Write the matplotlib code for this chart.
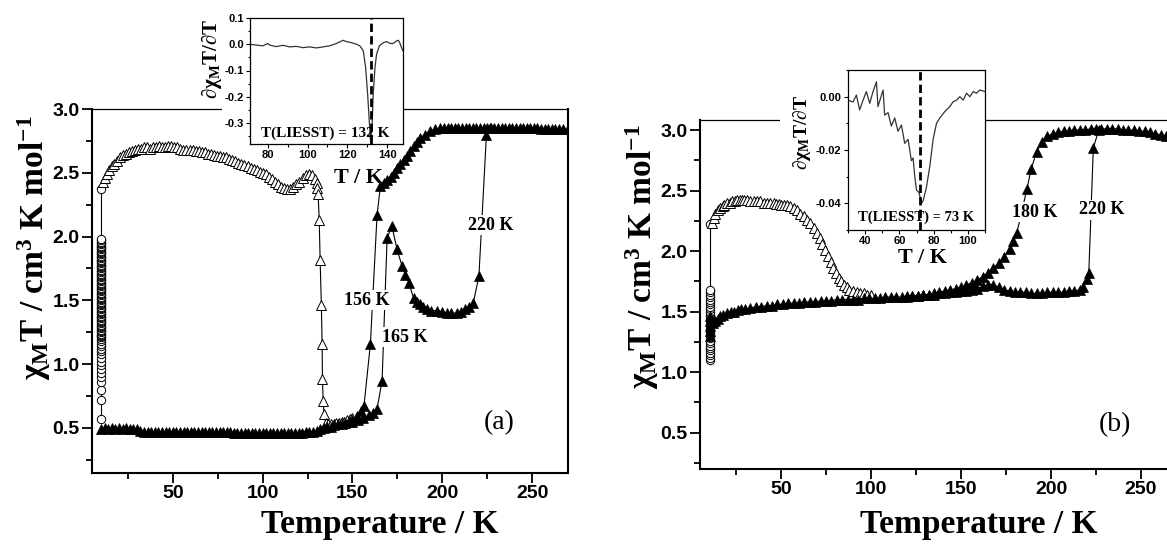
import numpy as np
import matplotlib
matplotlib.use('Agg')
import matplotlib.pyplot as plt
from matplotlib.patches import Rectangle
from matplotlib.ticker import MultipleLocator, FormatStrFormatter

plt.rcParams['font.family'] = ['Liberation Sans', 'DejaVu Sans']
plt.rcParams['font.weight'] = 'bold'
plt.rcParams['mathtext.default'] = 'regular'
plt.rcParams['axes.unicode_minus'] = False
SERIF = ['Liberation Serif', 'DejaVu Serif']

# ---------------- panel (a) data: (T / K, chiT) ----------------
a_circ_T = 10.0
a_circ_v = [0.57, 0.72, 0.80, 0.86, 0.90, 0.93, 0.96, 0.99, 1.02, 1.05, 1.08, 1.10,
            1.12, 1.14, 1.16, 1.18, 1.20, 1.21, 1.22, 1.23, 1.24, 1.25, 1.26, 1.27,
            1.28, 1.29, 1.30, 1.31, 1.32, 1.33, 1.34, 1.35, 1.36, 1.37, 1.38, 1.39,
            1.40, 1.41, 1.42, 1.43, 1.44, 1.45, 1.46, 1.47, 1.48, 1.49, 1.50, 1.51,
            1.52, 1.53, 1.54, 1.55, 1.56, 1.57, 1.58, 1.59, 1.60, 1.61, 1.62, 1.63,
            1.64, 1.65, 1.66, 1.67, 1.68, 1.69, 1.70, 1.71, 1.72, 1.73, 1.74, 1.75,
            1.76, 1.77, 1.78, 1.79, 1.80, 1.81, 1.82, 1.83, 1.84, 1.85, 1.86, 1.87,
            1.88, 1.89, 1.90, 1.91, 1.92, 1.93, 1.94, 1.95, 1.96, 1.97, 1.98, 2.37]

a_open = [(11.3, 2.43), (12.2, 2.46), (13.1, 2.49), (14.5, 2.52), (15.9, 2.55),
          (17.3, 2.57), (18.7, 2.59), (20.5, 2.62), (22.4, 2.64), (24.0, 2.65),
          (25.6, 2.66), (27.2, 2.67), (28.9, 2.68), (30.5, 2.69), (32.2, 2.69),
          (33.9, 2.70), (35.5, 2.70), (37.2, 2.69), (38.9, 2.70), (40.6, 2.70),
          (42.3, 2.71), (44.0, 2.70), (45.7, 2.70), (47.4, 2.71), (49.1, 2.71),
          (50.8, 2.70), (52.5, 2.70), (54.2, 2.69), (55.9, 2.68), (57.6, 2.68),
          (59.3, 2.68), (61.0, 2.68), (62.7, 2.67), (64.4, 2.67), (66.1, 2.66),
          (67.8, 2.66), (69.5, 2.65), (71.2, 2.65), (72.9, 2.64), (74.6, 2.63),
          (76.3, 2.63), (78.0, 2.62), (79.7, 2.62), (81.4, 2.61), (83.1, 2.60),
          (84.8, 2.59), (86.5, 2.58), (88.2, 2.57), (89.9, 2.56), (91.6, 2.55),
          (93.3, 2.54), (95.0, 2.53), (96.7, 2.52), (98.4, 2.51), (100.1, 2.50),
          (101.8, 2.49), (103.5, 2.47), (105.2, 2.45), (106.9, 2.43), (108.6, 2.41),
          (110.3, 2.39), (112.0, 2.38), (113.7, 2.37), (115.4, 2.37), (117.1, 2.39),
          (118.8, 2.41), (120.5, 2.43), (122.2, 2.46), (123.9, 2.48), (125.6, 2.49),
          (127.3, 2.48), (129.0, 2.45), (130.0, 2.42), (130.5, 2.38), (130.9, 2.33),
          (131.5, 2.13), (132.0, 1.82), (132.7, 1.46), (133.1, 1.16), (133.3, 0.88),
          (133.7, 0.71), (134.2, 0.61), (135.1, 0.54), (136.5, 0.53), (138.0, 0.53),
          (139.5, 0.53), (141.0, 0.54), (142.5, 0.54), (144.0, 0.55), (145.5, 0.55),
          (147.0, 0.56), (148.5, 0.57), (150.0, 0.58)]

# filled triangles: baseline then the 156 K branch
a_fill1 = [(10, 0.49), (12, 0.50), (14, 0.49), (16, 0.50), (18, 0.49), (20, 0.50),
           (22, 0.49), (24, 0.50), (26, 0.49), (28, 0.49), (30, 0.49), (32, 0.48),
           (34, 0.47), (36, 0.47), (38, 0.47), (40, 0.47), (42, 0.47), (44, 0.47),
           (46, 0.47), (48, 0.47), (50, 0.47), (52, 0.47), (54, 0.47), (56, 0.47),
           (58, 0.47), (60, 0.47), (62, 0.47), (64, 0.47), (66, 0.47), (68, 0.47),
           (70, 0.47), (72, 0.47), (74, 0.47), (76, 0.47), (78, 0.47), (80, 0.47),
           (82, 0.47), (84, 0.46), (86, 0.46), (88, 0.46), (90, 0.46), (92, 0.46),
           (94, 0.46), (96, 0.46), (98, 0.46), (100, 0.46), (102, 0.46), (104, 0.46),
           (106, 0.46), (108, 0.46), (110, 0.46), (112, 0.46), (114, 0.46), (116, 0.46),
           (118, 0.46), (120, 0.46), (122, 0.46), (124, 0.47), (126, 0.47), (128, 0.47),
           (130, 0.48), (132, 0.49), (134, 0.50), (136, 0.51), (138, 0.51), (140, 0.52),
           (142, 0.53), (144, 0.53), (146, 0.54), (148, 0.55), (150, 0.56), (152.5, 0.59),
           (154.5, 0.63), (156.4, 0.67), (160.0, 1.16), (163.7, 2.17), (165.6, 2.40),
           (167.5, 2.42), (169.3, 2.44), (171.2, 2.47), (173.0, 2.50), (174.9, 2.54),
           (176.7, 2.57), (178.5, 2.60), (180.4, 2.63), (182.2, 2.67), (184.0, 2.71),
           (185.9, 2.74), (187.7, 2.77), (190.3, 2.80), (193.0, 2.83), (195.9, 2.84),
           (198.8, 2.85), (201, 2.85), (203, 2.85), (205, 2.85), (207, 2.85), (209, 2.85),
           (211, 2.85), (213, 2.85), (215, 2.85), (217, 2.85), (219, 2.85), (221, 2.85),
           (223, 2.85), (225, 2.85), (227, 2.85), (229, 2.85), (231, 2.85), (233, 2.85),
           (235, 2.85), (237, 2.85), (239, 2.85), (241, 2.85), (243, 2.85), (245, 2.85),
           (247, 2.85), (249, 2.85), (251, 2.85), (253, 2.85), (255, 2.84), (257, 2.84),
           (259, 2.84), (261, 2.84), (263, 2.84), (265, 2.84), (267, 2.84), (270, 2.84)]

# filled triangles: the 165 K branch with the 220 K step
a_fill2 = [(150, 0.55), (153, 0.56), (156, 0.58), (159.1, 0.60), (161.5, 0.62),
           (163.7, 0.65), (166.5, 0.87), (169.3, 1.99), (172.0, 2.08), (174.8, 1.90),
           (177.6, 1.77), (179.5, 1.70), (181.3, 1.64), (184.0, 1.52), (186.0, 1.49),
           (187.7, 1.47), (189.5, 1.45), (191.4, 1.43), (194.0, 1.42), (197.0, 1.42),
           (200.0, 1.41), (202.5, 1.40), (205.0, 1.40), (208.0, 1.40), (210.5, 1.41),
           (212.6, 1.43), (215.0, 1.45), (217.3, 1.48), (220.4, 1.69), (224.6, 2.80),
           (226.5, 2.85)]

a_inset = [(70.7, 0.000), (74.1, -0.003), (77.5, -0.006), (80.0, 0.003), (80.8, -0.003),
           (84.2, -0.009), (87.6, -0.004), (90.9, -0.010), (94.3, -0.008), (97.7, -0.013),
           (101.0, -0.010), (104.4, -0.014), (107.8, -0.010), (111.1, -0.006),
           (114.5, 0.003), (117.9, 0.015), (119.6, 0.010), (122.1, 0.006), (124.6, 0.000),
           (126.3, -0.006), (128.0, -0.025), (129.2, -0.089), (130.2, -0.190),
           (131.0, -0.290), (131.7, -0.370), (132.4, -0.320), (133.0, -0.190),
           (133.9, -0.089), (134.7, -0.038), (136.1, -0.006), (138.1, 0.006),
           (139.8, 0.010), (141.4, 0.003), (143.1, 0.003), (144.8, 0.013), (145.7, 0.015),
           (146.5, 0.003), (147.8, -0.023)]
a_liesst = 132

# ---------------- panel (b) data ----------------
b_circ_T = 10.6
b_circ_v = [1.10, 1.12, 1.14, 1.16, 1.18, 1.20, 1.22, 1.24, 1.26, 1.28, 1.30, 1.32,
            1.34, 1.36, 1.38, 1.40, 1.42, 1.44, 1.46, 1.48, 1.50, 1.52, 1.54, 1.56,
            1.58, 1.60, 1.62, 1.64, 1.66, 1.68, 2.22]

b_open = [(11.7, 2.23), (12.6, 2.27), (13.6, 2.31), (15.0, 2.34), (16.3, 2.36),
          (17.5, 2.37), (18.5, 2.38), (20.0, 2.40), (21.5, 2.40), (22.8, 2.41),
          (24.2, 2.41), (25.6, 2.42), (27.0, 2.42), (28.3, 2.42), (29.7, 2.42),
          (31.1, 2.42), (32.9, 2.41), (34.8, 2.41), (36.6, 2.41), (38.5, 2.41),
          (40.3, 2.40), (42.2, 2.40), (44.0, 2.40), (45.9, 2.40), (47.3, 2.39),
          (48.7, 2.39), (50.1, 2.38), (51.5, 2.38), (53.4, 2.38), (55.2, 2.37),
          (57.0, 2.36), (58.9, 2.34), (60.7, 2.31), (62.6, 2.29), (64.5, 2.26),
          (66.3, 2.23), (68.2, 2.19), (70.0, 2.15), (71.5, 2.11), (73.0, 2.06),
          (74.5, 2.01), (76.0, 1.96), (77.5, 1.91), (79.0, 1.86), (80.5, 1.82),
          (82.0, 1.78), (83.5, 1.75), (85.0, 1.72), (86.5, 1.70), (88.0, 1.68),
          (90.0, 1.67), (92.0, 1.66), (94.0, 1.65), (96.0, 1.65), (98.0, 1.64),
          (100.0, 1.64)]

# filled triangles: lower branch with the 220 K step
b_low = [(10.6, 1.30), (10.6, 1.34), (10.6, 1.38), (10.6, 1.42), (10.6, 1.46),
         (12.0, 1.41), (13.6, 1.42), (15.0, 1.44), (16.3, 1.46), (18.0, 1.47),
         (20.0, 1.49), (22.0, 1.50), (24.0, 1.50), (26.0, 1.51), (28.0, 1.52),
         (30.0, 1.52), (33, 1.53), (36, 1.54), (39, 1.54), (42, 1.55), (45, 1.55),
         (48, 1.56), (51, 1.56), (54, 1.57), (57, 1.57), (60, 1.57), (63, 1.58),
         (66, 1.58), (69, 1.58), (72, 1.59), (75, 1.59), (78, 1.59), (81, 1.60),
         (84, 1.60), (87, 1.60), (90, 1.60), (93, 1.60), (96, 1.61), (99, 1.61),
         (102, 1.61), (105, 1.61), (108, 1.62), (111, 1.62), (114, 1.62), (117, 1.62),
         (120, 1.63), (123, 1.63), (126, 1.63), (129, 1.64), (132, 1.64), (135, 1.64),
         (138, 1.65), (141, 1.65), (144, 1.66), (147, 1.66), (150, 1.67), (153, 1.67),
         (156, 1.68), (159, 1.69), (162, 1.71), (165, 1.72), (168, 1.72), (171, 1.70),
         (174, 1.68), (177, 1.67), (180, 1.66), (183, 1.66), (186, 1.66), (189, 1.65),
         (192, 1.65), (195, 1.65), (198, 1.66), (201, 1.66), (204, 1.66), (207, 1.66),
         (210, 1.67), (213, 1.67), (216, 1.68), (218, 1.70), (220, 1.77), (221, 1.82),
         (223.5, 2.85), (226.5, 3.00)]

# filled triangles: upper branch (180 K) and the high-spin plateau
b_high = [(120, 1.62), (123, 1.63), (126, 1.63), (129, 1.64), (132, 1.64), (135, 1.65),
          (138, 1.66), (141, 1.67), (144, 1.68), (147, 1.69), (150, 1.70), (153, 1.72),
          (156, 1.74), (159, 1.76), (162, 1.79), (165, 1.82), (168, 1.86), (171, 1.90),
          (174, 1.95), (177, 2.02), (179, 2.08), (181, 2.15), (186.6, 2.51), (189, 2.68),
          (192, 2.82), (195, 2.90), (198, 2.95), (201, 2.97), (204, 2.98), (207, 2.99),
          (210, 2.99), (213, 3.00), (216, 3.00), (219, 3.00), (222, 3.01), (225, 3.01),
          (228, 3.01), (231, 3.01), (234, 3.01), (237, 3.01), (240, 3.00), (243, 3.00),
          (246, 3.00), (249, 2.99), (252, 2.99), (255, 2.98), (258, 2.97), (261, 2.96),
          (264, 2.95), (267, 2.94), (270, 2.94)]

b_inset = [(30.0, -0.0013), (32.9, -0.0020), (34.9, 0.0006), (36.8, -0.0050),
           (38.8, -0.0013), (40.7, 0.0019), (42.7, -0.0025), (44.6, 0.0019),
           (46.6, 0.0056), (47.5, -0.0037), (50.5, 0.0025), (51.4, -0.0069),
           (53.4, -0.0060), (55.3, -0.0110), (57.3, -0.0080), (59.2, -0.0130),
           (61.2, -0.0106), (63.1, -0.0175), (65.1, -0.0160), (67.0, -0.0240),
           (68.0, -0.0230), (69.0, -0.0300), (70.0, -0.0350), (71.5, -0.0360),
           (72.9, -0.0400), (73.9, -0.0390), (75.8, -0.0340), (77.8, -0.0260),
           (79.7, -0.0160), (81.7, -0.0100), (83.6, -0.0080), (86.5, -0.0056),
           (89.5, -0.0037), (91.4, -0.0019), (93.4, -0.0013), (95.3, 0.0000),
           (97.3, -0.0013), (99.2, 0.0013), (101.2, 0.0000), (103.1, 0.0019),
           (105.0, 0.0013), (107.0, 0.0025), (110.0, 0.0019)]
b_liesst = 72

W, H = 1167, 545


def rect(l, t, r, b):
    return [l / W, 1 - b / H, (r - l) / W, (b - t) / H]


def fx(x):
    return x / W


def fy(y):
    return 1 - y / H


def xy(pairs):
    T, v = zip(*pairs)
    return np.array(T), np.array(v)


fig = plt.figure(figsize=(W / 100, H / 100), dpi=100)


def style_main(ax, ylim):
    ax.set_xlim(5, 270)
    ax.set_ylim(*ylim)
    ax.xaxis.set_major_locator(MultipleLocator(50))
    ax.xaxis.set_minor_locator(MultipleLocator(25))
    ax.yaxis.set_major_locator(MultipleLocator(0.5))
    ax.yaxis.set_minor_locator(MultipleLocator(0.25))
    ax.yaxis.set_major_formatter(FormatStrFormatter('%.1f'))
    ax.tick_params(which='both', direction='out', top=False, right=False,
                   labelsize=14, width=1.3, pad=2)
    ax.tick_params(which='major', length=7)
    ax.tick_params(which='minor', length=4)
    for s in ['left', 'bottom', 'right']:
        ax.spines[s].set_linewidth(1.5)
    ax.spines['top'].set_linewidth(0.9)


def style_inset(ax, xlim, ylim, ymaj, yfmt):
    ax.set_xlim(*xlim)
    ax.set_ylim(*ylim)
    ax.xaxis.set_major_locator(MultipleLocator(20))
    ax.xaxis.set_minor_locator(MultipleLocator(10))
    ax.yaxis.set_major_locator(MultipleLocator(ymaj))
    ax.yaxis.set_minor_locator(MultipleLocator(ymaj / 2))
    ax.yaxis.set_major_formatter(FormatStrFormatter(yfmt))
    ax.tick_params(which='both', direction='out', top=False, right=False,
                   labelsize=8, width=0.8, pad=1.5)
    ax.tick_params(which='major', length=3)
    ax.tick_params(which='minor', length=1.8)
    for s in ax.spines.values():
        s.set_linewidth(0.9)


def filled(ax, pairs):
    T, v = xy(pairs)
    ax.plot(T, v, '-', color='k', lw=0.8, marker='^', ms=7.5, mfc='k', mec='k',
            mew=0.5, zorder=3)


def open_tri(ax, pairs):
    T, v = xy(pairs)
    ax.plot(T, v, '-', color='k', lw=0.8, marker='^', ms=7.5, mfc='white', mec='k',
            mew=0.7, zorder=2)


def circles(ax, T, v):
    ax.plot(np.full(len(v), T), v, '-', color='k', lw=0.8, marker='o', ms=6,
            mfc='white', mec='k', mew=0.7, zorder=2)


lab = dict(family=SERIF, fontweight='bold', fontsize=13, ha='center', va='center',
           zorder=5, bbox=dict(facecolor='white', edgecolor='none', pad=1))

# ---------------- panel (a) ----------------
axa = fig.add_axes(rect(92, 109, 568, 473))
style_main(axa, (0.147, 3.0))
circles(axa, a_circ_T, a_circ_v)
open_tri(axa, a_open)
filled(axa, a_fill1)
filled(axa, a_fill2)
axa.text(157.8, 1.50, '156 K', **lab)
axa.text(178.9, 1.21, '165 K', **lab)
axa.text(227.2, 2.09, '220 K', **lab)
axa.text(231.7, 0.54, '(a)', family=SERIF, fontweight='normal', fontsize=20,
         ha='center', va='center')

fig.patches.append(Rectangle((fx(222), fy(116)), fx(250) - fx(222), fy(102) - fy(116),
                             transform=fig.transFigure, facecolor='white',
                             edgecolor='none', zorder=1))
ia = fig.add_axes(rect(250, 18, 403, 144))
ia.set_zorder(2)
style_inset(ia, (71, 148), (-0.38, 0.1), 0.1, '%.1f')
T, v = xy(a_inset)
ia.plot(T, v, color='#333333', lw=0.9, zorder=2)
ia.axvline(a_liesst, color='k', lw=2, ls=(0, (3, 1.5)), zorder=4)
ia.text(0.49, 0.087, 'T(LIESST) = 132 K', transform=ia.transAxes, family=SERIF,
        fontweight='bold', fontsize=11, ha='center', va='center', zorder=3)

# ---------------- panel (b) ----------------
axb = fig.add_axes(rect(700, 120, 1177, 469))
style_main(axb, (0.2, 3.083))
circles(axb, b_circ_T, b_circ_v)
open_tri(axb, b_open)
filled(axb, b_low)
filled(axb, b_high)
axb.text(191, 2.32, '180 K', **lab)
axb.text(228.3, 2.34, '220 K', **lab)
axb.text(235.5, 0.57, '(b)', family=SERIF, fontweight='normal', fontsize=20,
         ha='center', va='center')

fig.patches.append(Rectangle((fx(780), fy(127)), fx(848) - fx(780), fy(112) - fy(127),
                             transform=fig.transFigure, facecolor='white',
                             edgecolor='none', zorder=1))
ib = fig.add_axes(rect(848, 70, 985, 230))
ib.set_zorder(2)
style_inset(ib, (30, 110), (-0.05, 0.01), 0.02, '%.2f')
T, v = xy(b_inset)
ib.plot(T, v, color='#333333', lw=0.9, zorder=2)
ib.axvline(b_liesst, color='k', lw=2, ls=(0, (3, 1.5)), zorder=4)
ib.text(0.496, 0.081, 'T(LIESST) = 73 K', transform=ib.transAxes, family=SERIF,
        fontweight='bold', fontsize=10.5, ha='center', va='center', zorder=3)

# ---------------- axis titles ----------------
ylab = 'χ$_{M}$T / cm$^{3}$ K mol$^{-1}$'
big = dict(family=SERIF, fontweight='bold', fontsize=24, ha='center', va='center')
fig.text(fx(34), fy(248), ylab, rotation=90, **big)
fig.text(fx(642), fy(257), ylab, rotation=90, **big)
fig.text(fx(380), fy(525), 'Temperature / K', **big)
fig.text(fx(979), fy(525), 'Temperature / K', **big)

small = dict(family=SERIF, fontweight='bold', ha='center', va='center', zorder=6)
fig.text(fx(359), fy(178), 'T / K', fontsize=16, **small)
fig.text(fx(922), fy(258), 'T / K', fontsize=16, **small)
fig.text(fx(211), fy(59), '∂χ$_{M}$T/∂T', rotation=90, fontsize=15, **small)
fig.text(fx(802), fy(133), '∂χ$_{M}$T/∂T', rotation=90, fontsize=14, **small)

fig.savefig('out.png', dpi=100)
